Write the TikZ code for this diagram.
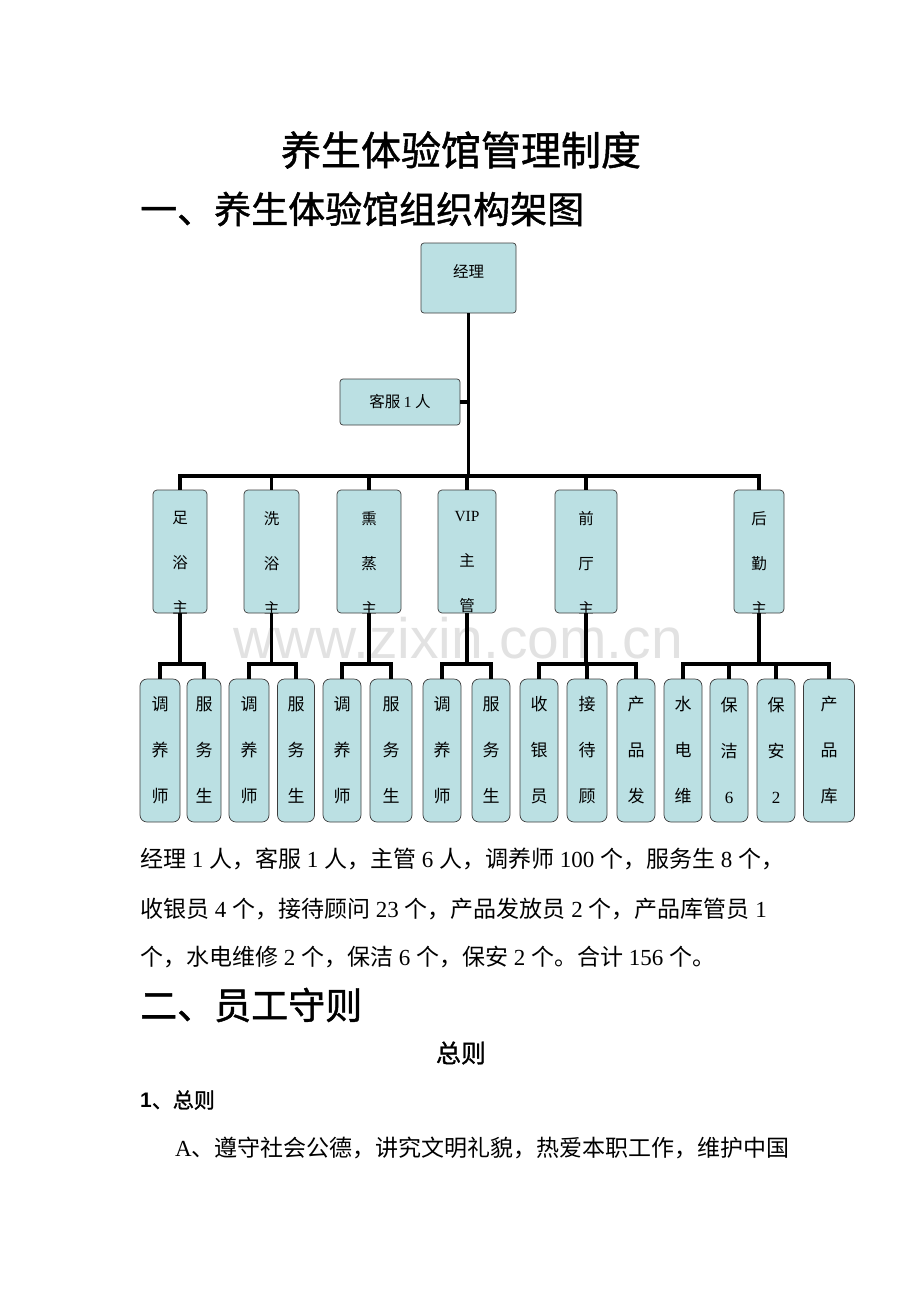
\documentclass[tikz,border=0pt]{standalone}
\usepackage{fontspec}
\setmainfont{Liberation Serif}
\setsansfont{Liberation Sans}
\newfontfamily\cjk{Noto Sans CJK SC}
\newfontfamily\cjkbf[FakeBold=1.2]{Noto Sans CJK SC}
\usetikzlibrary{positioning}
\definecolor{boxfill}{RGB}{187,224,227}
\definecolor{boxline}{RGB}{60,60,60}
\definecolor{markgray}{RGB}{226,226,226}
\tikzstyle{box} = [draw=boxline, fill=boxfill, line width=0.7pt, inner sep=0pt]
\tikzstyle{dept} = [box, rounded corners=4pt, minimum height=123pt]
\tikzstyle{staff} = [box, rounded corners=7pt, minimum height=143pt, minimum width=38pt, align=center, font={\cjk\fontsize{17}{46}\selectfont}]
\tikzstyle{link} = [line width=3.5pt]
\tikzstyle{body} = [anchor=west, inner sep=0pt, font={\cjk\fontsize{23}{23}\selectfont}]
\tikzset{toptext/.style={path picture={
  \node[anchor=north, align=center, inner sep=0pt, draw=none, fill=none,
        minimum width=0pt, minimum height=0pt,
        font={\cjk\fontsize{15.5}{45}\selectfont}]
        at ([yshift=-21pt]path picture bounding box.north) {#1};}}}
\newcommand{\en}[1]{{\rmfamily #1}}
\newcommand{\num}[1]{{\rmfamily\hspace{0.25em}#1\hspace{0.25em}}}
% stretch a line to a given width, like a justified line
\XeTeXinterchartoks 1 1 = {\hskip 0pt plus 1fil}
\XeTeXinterchartoks 1 3 = {\hskip 0pt plus 1fil}
\XeTeXinterchartoks 3 1 = {\hskip 0pt plus 1fil}
\XeTeXinterchartoks 1 2 = {\hskip 0pt plus 1fil}
\XeTeXinterchartoks 2 1 = {\hskip 0pt plus 1fil}
\newcommand{\justline}[2]{{\XeTeXinterchartokenstate=1 \hbox to #1{#2}}}

\begin{document}
\begin{tikzpicture}[x=1pt, y=-1pt]
\useasboundingbox (0,0) rectangle (920,1302);

% headings
\node[font={\cjkbf\fontsize{40}{40}\selectfont}] (title) at (461,150) {养生体验馆管理制度};
\node[anchor=west, inner sep=0pt, font={\cjkbf\fontsize{37}{37}\selectfont}] (sec1) at (140,209) {一、养生体验馆组织构架图};

% watermark
\node[text=markgray, font={\sffamily\fontsize{57}{57}\selectfont}] (wm) at (458,638) {www.zixin.com.cn};

% manager and service
\node[box, rounded corners=3pt, minimum width=95pt, minimum height=70pt, toptext={经理}] (jingli) at (468.5,278) {};
\node[box, rounded corners=3pt, minimum width=120pt, minimum height=46pt, font={\cjk\fontsize{15.5}{15.5}\selectfont}] (kefu) at (400,402) {客服 \en{1} 人};

% department heads
\node[dept, minimum width=54pt, toptext={足\\浴\\主}] (zuyu) at (180,551.5) {};
\node[dept, minimum width=55pt, toptext={洗\\浴\\主}] (xiyu) at (271.5,551.5) {};
\node[dept, minimum width=64pt, toptext={熏\\蒸\\主}] (xunzheng) at (369,551.5) {};
\node[dept, minimum width=58pt, toptext={\en{VIP}\\主\\管}] (vip) at (467,551.5) {};
\node[dept, minimum width=62pt, toptext={前\\厅\\主}] (qianting) at (586,551.5) {};
\node[dept, minimum width=50pt, toptext={后\\勤\\主}] (houqin) at (759,551.5) {};

% staff
\node[staff, minimum width=40pt] (tys1) at (160,750.5) {调\\养\\师};
\node[staff, minimum width=34pt] (fws1) at (204,750.5) {服\\务\\生};
\node[staff, minimum width=40pt] (tys2) at (249,750.5) {调\\养\\师};
\node[staff, minimum width=37pt] (fws2) at (296,750.5) {服\\务\\生};
\node[staff] (tys3) at (342,750.5) {调\\养\\师};
\node[staff, minimum width=42pt] (fws3) at (391,750.5) {服\\务\\生};
\node[staff] (tys4) at (442,750.5) {调\\养\\师};
\node[staff] (fws4) at (491,750.5) {服\\务\\生};
\node[staff] (syy) at (539,750.5) {收\\银\\员};
\node[staff, minimum width=40pt] (jdg) at (587,750.5) {接\\待\\顾};
\node[staff] (cpf) at (636,750.5) {产\\品\\发};
\node[staff] (sdw) at (683,750.5) {水\\电\\维};
\node[staff] (bj) at (729,750.5) {保\\洁\\\en{6}};
\node[staff] (ba) at (776,750.5) {保\\安\\\en{2}};
\node[staff, minimum width=51pt] (cpk) at (829,750.5) {产\\品\\库};

% connectors
\coordinate (bus) at (468.5,476);
\draw[link] (jingli) -- (bus);
\draw[link] (kefu) -- (kefu -| jingli);
\foreach \d in {zuyu,xiyu,xunzheng,vip,qianting,houqin}
  \draw[link] (bus) -| (\d);
\foreach \d/\kids in {zuyu/{tys1,fws1}, xiyu/{tys2,fws2}, xunzheng/{tys3,fws3}, vip/{tys4,fws4}, qianting/{syy,jdg,cpf}, houqin/{sdw,bj,ba,cpk}} {
  \coordinate (j) at (\d.south |- 0,664);
  \draw[link] (\d) -- (j);
  \foreach \k in \kids
    \draw[link] (j) -| (\k);
}

% text below
\node[body] (p1) at (140,859) {\justline{666pt}{经理\num{1}人，客服\num{1}人，主管\num{6}人，调养师\num{100}个，服务生\num{8}个，}};
\node[body] (p2) at (140,909) {\justline{637pt}{收银员\num{4}个，接待顾问\num{23}个，产品发放员\num{2}个，产品库管员\num{1}}};
\node[body] (p3) at (140,957) {个，水电维修\num{2}个，保洁\num{6}个，保安\num{2}个。合计\num{156}个。};
\node[anchor=west, inner sep=0pt, font={\cjkbf\fontsize{37}{37}\selectfont}] (sec2) at (140,1005) {二、员工守则};
\node[font={\cjkbf\fontsize{25}{25}\selectfont}] (zongze) at (461,1053) {总则};
\node[anchor=west, inner sep=0pt, font={\cjkbf\fontsize{21}{21}\selectfont}] (item1) at (140,1100) {{\sffamily\bfseries 1}、总则};
\node[body] (ruleA) at (175,1148) {\justline{614pt}{\en{A}、遵守社会公德，讲究文明礼貌，热爱本职工作，维护中国}};

\end{tikzpicture}
\end{document}
